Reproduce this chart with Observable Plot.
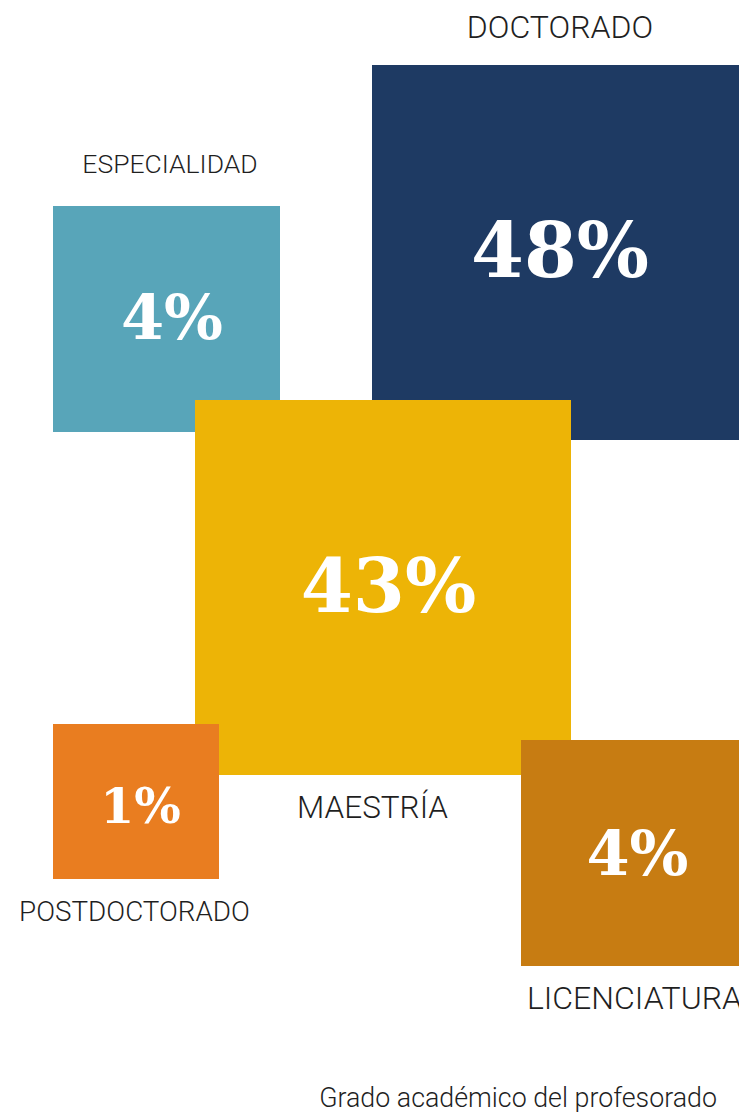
<!DOCTYPE html>
<html>
<head>
<meta charset="utf-8">
<script src="https://cdn.jsdelivr.net/npm/d3@7"></script>
<script src="https://cdn.jsdelivr.net/npm/@observablehq/plot@0.6"></script>
<style>
  html, body { margin: 0; padding: 0; background: #fff; overflow: hidden; }
  #chart { width: 739px; }
  #caption { font-family: Roboto, sans-serif; font-weight: 300; font-size: 26.8px; color: #1f1f1f;
             text-align: right; padding-right: 22px; margin-top: 5px; line-height: 1; }
</style>
</head>
<body>
<div id="chart"></div>
<div id="caption">Grado académico del profesorado</div>
<script>
// Data
const categories = ["ESPECIALIDAD", "DOCTORADO", "MAESTRÍA", "POSTDOCTORADO", "LICENCIATURA"];
const values = [4, 48, 43, 1, 4];
const colors = ["#58a5b9", "#1e3a63", "#edb406", "#e97d20", "#c77c12"];

// Layout (top-left corner, width/height, label placement and offsets, font sizes)
const layoutX = [53, 372, 195, 53, 521];
const layoutY = [206, 65, 400, 724, 740];
const layoutW = [227, 375, 376, 166, 226];
const layoutH = [226, 375, 375, 155, 226];
const labelPos = ["top", "top", "bottom", "bottom", "bottom"];
const labelGap = [42, 38, 32, 33, 32];
const labelDx = [3, 0, -11, -2, 0];
const labelSize = [26.5, 32, 31.5, 27.8, 32];
const valueSize = [62, 76, 75, 49, 62];
const valueDx = [5, 0, 5, 4, 3];
const valueDy = [0, 0, 0, 5, 2];

const W = 739, H = 1080;

const rows = categories.map((c, i) => ({
  cat: c, value: values[i], color: colors[i],
  x1: layoutX[i], x2: layoutX[i] + layoutW[i],
  y1: layoutY[i], y2: layoutY[i] + layoutH[i],
  cx: layoutX[i] + layoutW[i] / 2 + valueDx[i],
  cy: layoutY[i] + layoutH[i] / 2 + valueDy[i],
  lx: layoutX[i] + layoutW[i] / 2 + labelDx[i],
  ly: labelPos[i] === "top" ? layoutY[i] - labelGap[i] : layoutY[i] + layoutH[i] + labelGap[i],
  lsize: labelSize[i], vsize: valueSize[i]
}));

const marks = [];
rows.forEach(r => {
  marks.push(Plot.rect([r], {x1: "x1", x2: "x2", y1: "y1", y2: "y2", fill: "color", clip: true}));
  marks.push(Plot.text([r], {x: "cx", y: "cy", text: d => d.value + "%", fill: "#fff",
    fontFamily: "DejaVu Serif", fontWeight: "bold", fontSize: r.vsize, textAnchor: "middle", lineAnchor: "middle", clip: true}));
});
rows.forEach(r => {
  marks.push(Plot.text([r], {x: "lx", y: "ly", text: "cat", fill: "#1f1f1f",
    fontFamily: "Roboto", fontWeight: 300, fontSize: r.lsize, textAnchor: "middle", lineAnchor: "middle", clip: true}));
});

const plot = Plot.plot({
  width: W, height: H,
  margin: 0,
  x: {type: "linear", domain: [0, W], range: [0, W], axis: null},
  y: {type: "linear", domain: [0, H], range: [0, H], axis: null},
  color: {type: "identity"},
  style: {background: "#fff", overflow: "hidden"},
  marks
});
document.getElementById("chart").appendChild(plot);
</script>
</body>
</html>
